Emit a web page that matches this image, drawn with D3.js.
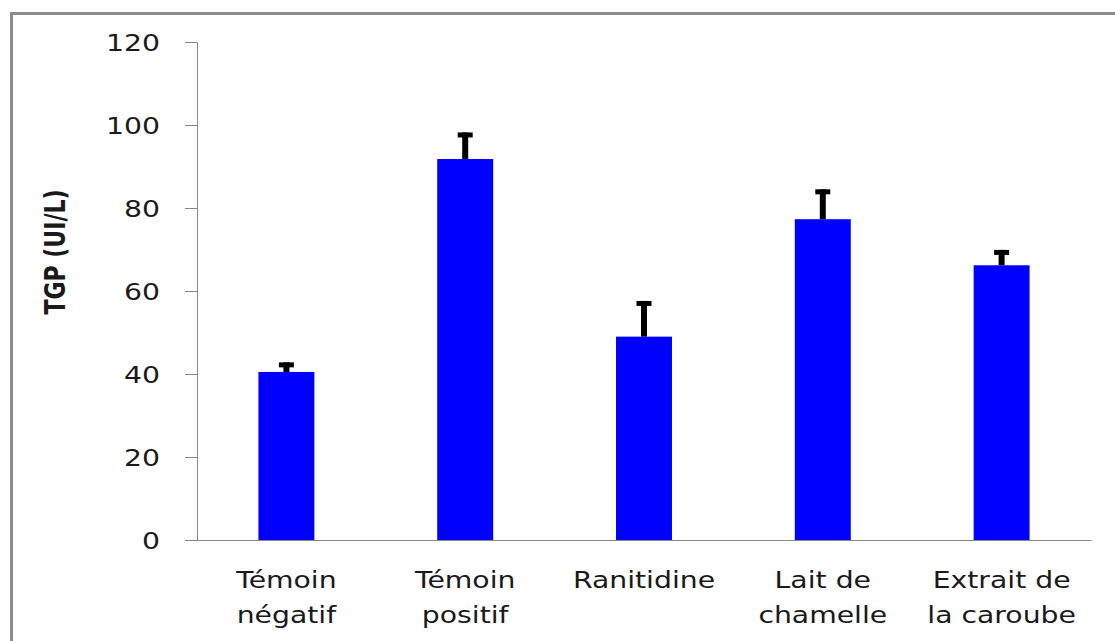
<!DOCTYPE html>
<html>
<head>
<meta charset="utf-8">
<script src="https://d3js.org/d3.v7.min.js"></script>
<style>
  body { margin: 0; background: #fff; }
  text { font-family: "DejaVu Sans", sans-serif; fill: #1a1a1a; }
</style>
</head>
<body>
<div id="chart"></div>
<script>
// data
var categories = ["Témoin négatif", "Témoin positif", "Ranitidine", "Lait de chamelle", "Extrait de la caroube"];
var labelLines = [["Témoin", "négatif"], ["Témoin", "positif"], ["Ranitidine"], ["Lait de", "chamelle"], ["Extrait de", "la caroube"]];
var values = [40.5, 91.8, 49.0, 77.3, 66.2];
var errors = [2.3, 6.4, 8.6, 7.2, 3.7];
var yTicks = [0, 20, 40, 60, 80, 100, 120];

var W = 1115, H = 641;
var stretch = 1.23; // text in the picture is widened

var svg = d3.select("#chart")
  .append("svg")
  .attr("width", W)
  .attr("height", H);

// outer frame
svg.append("rect")
  .attr("x", 11.5)
  .attr("y", 13.5)
  .attr("width", 1200)
  .attr("height", 700)
  .attr("fill", "none")
  .attr("stroke", "#8c8c8c")
  .attr("stroke-width", 3);

var x = d3.scaleBand()
  .domain(categories)
  .range([197, 1091])
  .paddingInner(0.687)
  .paddingOuter(0.3435);

var y = d3.scaleLinear()
  .domain([0, 120])
  .range([540, 42]);

// y axis
var yAxis = svg.append("g")
  .attr("transform", "translate(197,0)")
  .call(d3.axisLeft(y).tickValues(yTicks).tickSize(12).tickPadding(0));
yAxis.select(".domain").attr("stroke", "#868686");
yAxis.selectAll(".tick line").attr("stroke", "#868686");
yAxis.selectAll(".tick text")
  .attr("x", 0)
  .attr("dy", null)
  .attr("transform", "translate(-37,8) scale(" + stretch + ",1)")
  .style("font-size", "23px")
  .style("font-family", "DejaVu Sans, sans-serif")
  .attr("fill", "#1a1a1a");

// x axis line
var xAxis = svg.append("g")
  .attr("transform", "translate(0," + y(0) + ")")
  .call(d3.axisBottom(x).tickSize(0).tickFormat(""));
xAxis.select(".domain").attr("stroke", "#868686");

// bars
svg.selectAll(".bar")
  .data(categories)
  .enter()
  .append("rect")
  .attr("class", "bar")
  .attr("x", function(d) { return x(d) })
  .attr("width", x.bandwidth())
  .attr("y", function(d, i) { return y(values[i]) })
  .attr("height", function(d, i) { return y(0) - y(values[i]) })
  .attr("fill", "#0000ff");

// error bars (upper only)
var err = svg.selectAll(".err")
  .data(categories)
  .enter()
  .append("g")
  .attr("class", "err");
err.append("line")
  .attr("x1", function(d) { return x(d) + x.bandwidth() / 2 })
  .attr("x2", function(d) { return x(d) + x.bandwidth() / 2 })
  .attr("y1", function(d, i) { return y(values[i]) })
  .attr("y2", function(d, i) { return y(values[i] + errors[i]) })
  .attr("stroke", "#000")
  .attr("stroke-width", 6);
err.append("line")
  .attr("x1", function(d) { return x(d) + x.bandwidth() / 2 - 7.5 })
  .attr("x2", function(d) { return x(d) + x.bandwidth() / 2 + 7.5 })
  .attr("y1", function(d, i) { return y(values[i] + errors[i]) + 2.5 })
  .attr("y2", function(d, i) { return y(values[i] + errors[i]) + 2.5 })
  .attr("stroke", "#000")
  .attr("stroke-width", 5);

// category labels
var labels = svg.selectAll(".cat")
  .data(categories)
  .enter()
  .append("g")
  .attr("class", "cat")
  .attr("transform", function(d) { return "translate(" + (x(d) + x.bandwidth() / 2) + ",0) scale(" + stretch + ",1)" });
labels.each(function(d, i) {
  var t = d3.select(this).append("text")
    .attr("text-anchor", "middle")
    .style("font-size", "23px");
  labelLines[i].forEach(function(line, j) {
    t.append("tspan")
      .attr("x", 0)
      .attr("y", 588 + j * 35)
      .text(line);
  });
});

// y axis title
svg.append("text")
  .attr("transform", "translate(65,252) rotate(-90) scale(1,1.25)")
  .attr("text-anchor", "middle")
  .style("font-size", "22px")
  .style("font-weight", "bold")
  .attr("fill", "#111")
  .text("TGP (UI/L)");
</script>
</body>
</html>
